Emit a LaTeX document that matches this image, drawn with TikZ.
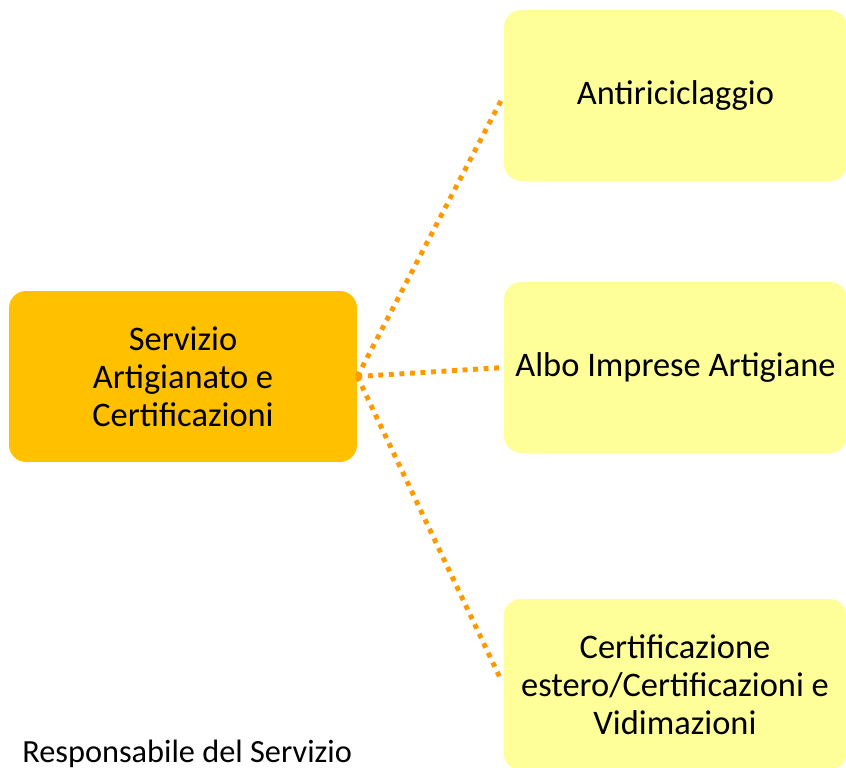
\documentclass[tikz,border=0pt]{standalone}
\usepackage{fontspec}
\setmainfont{Carlito}
\usepackage{xcolor}
\usepackage{tikz}
\usetikzlibrary{positioning}

\definecolor{unitfill}{HTML}{FFC000}
\definecolor{officefill}{HTML}{FFFF99}
\definecolor{linkorange}{HTML}{FF9900}

\begin{document}
\begin{tikzpicture}[
    x=0.02cm, y=-0.02cm,
    unit/.style={rectangle, rounded corners=0.34cm, fill=unitfill, minimum width=6.96cm, minimum height=3.42cm, align=center, font=\fontsize{19.6}{21.6}\selectfont},
    office/.style={rectangle, rounded corners=0.34cm, fill=officefill, minimum width=6.86cm, minimum height=3.42cm, align=center, font=\fontsize{19.6}{21.6}\selectfont},
    link/.style={linkorange, line width=2.8pt, dash pattern=on 2.8pt off 3.2pt, shorten >=0.08cm}
]
\useasboundingbox (0,0) rectangle (846,768);
\node[unit] (servizio) at (183,376.5) {Servizio\\Artigianato e\\Certificazioni};
\node[office] (antiric) at (675.5,95.5) {\raisebox{-2pt}{Antiriciclaggio}};
\node[office] (albo) at (675.5,367.5) {Albo Imprese Artigiane};
\node[office] (certif) at (675,684.5) {Certificazione\\estero/Certificazioni e\\Vidimazioni};
\node[anchor=base west, inner sep=0pt, font=\fontsize{18.4}{22}\selectfont] (resp) at (22,762) {Responsabile del Servizio};

\draw[link] (servizio.east) -- (antiric.west);
\draw[link] (servizio.east) -- (albo.west);
\draw[link] (servizio.east) -- (certif.west);
\end{tikzpicture}
\end{document}
